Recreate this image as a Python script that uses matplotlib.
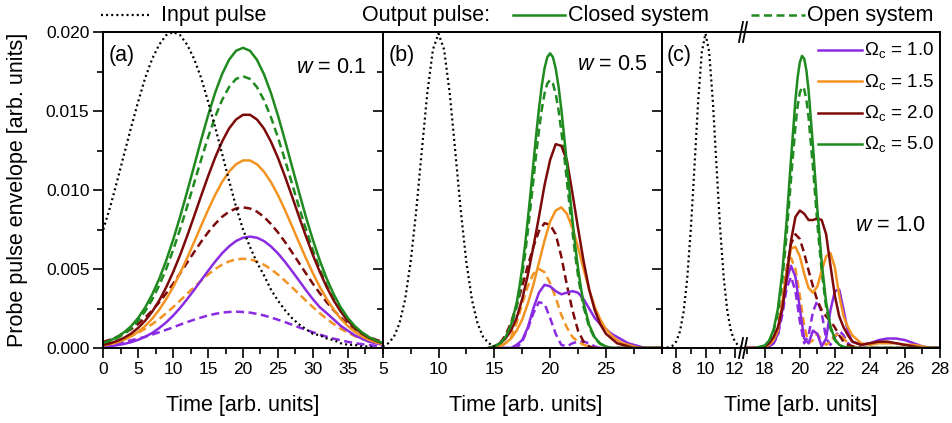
import numpy as np
import matplotlib
matplotlib.use("Agg")
import matplotlib.pyplot as plt
from matplotlib.lines import Line2D
from matplotlib.ticker import MultipleLocator, FormatStrFormatter

plt.rcParams["font.family"] = ["Liberation Sans", "DejaVu Sans"]
plt.rcParams["mathtext.fontset"] = "custom"
plt.rcParams["mathtext.rm"] = "Liberation Sans"
plt.rcParams["mathtext.it"] = "Liberation Sans:italic"
plt.rcParams["mathtext.default"] = "regular"

# ---------------- data ----------------
omega_labels = ["1.0", "1.5", "2.0", "5.0"]
w_labels = ["0.1", "0.5", "1.0"]

# panel (a), w = 0.1
ta = np.arange(0, 41, 1)
a_input = [0.0075, 0.00895, 0.0106, 0.0123, 0.014, 0.0156, 0.0171, 0.0183, 0.0192, 0.0198, 0.02,
           0.0198, 0.0192, 0.0183, 0.0171, 0.0156, 0.014, 0.0123, 0.0106, 0.00895, 0.0075,
           0.0064, 0.0054, 0.0046, 0.0037, 0.003, 0.0024, 0.0019, 0.0015, 0.0012, 0.0009,
           0.0008, 0.0006, 0.0005, 0.0003, 0.0002, 0.0002, 0.0001, 0.0001, 0, 0]
a_closed = {
    "1.0": [0.00008, 0.00012, 0.00018, 0.00026, 0.00037, 0.00052, 0.00071, 0.00095, 0.00126, 0.00162, 0.00205,
            0.00254, 0.00309, 0.00367, 0.00428, 0.00488, 0.00546, 0.00599, 0.00643, 0.00677, 0.00698,
            0.00705, 0.00698, 0.00677, 0.00643, 0.00599, 0.00546, 0.00488, 0.00428, 0.00367, 0.00309,
            0.00258, 0.0022, 0.0018, 0.0014, 0.0011, 0.0008, 0.0006, 0.0004, 0.0003, 0.0002],
    "1.5": [0.00016, 0.00025, 0.00036, 0.00052, 0.00074, 0.00103, 0.00139, 0.00185, 0.00242, 0.00309, 0.00386,
            0.00474, 0.00569, 0.0067, 0.00773, 0.00874, 0.00968, 0.0105, 0.01116, 0.01163, 0.01187,
            0.01187, 0.01163, 0.01116, 0.0105, 0.00968, 0.00874, 0.00773, 0.0067, 0.00569, 0.00474,
            0.00386, 0.00309, 0.00242, 0.00185, 0.00139, 0.00103, 0.00074, 0.00052, 0.00036, 0.00025],
    "2.0": [0.0002, 0.0003, 0.00045, 0.00065, 0.00092, 0.00128, 0.00173, 0.0023, 0.003, 0.00384, 0.00481,
            0.00589, 0.00708, 0.00834, 0.00962, 0.01087, 0.01204, 0.01306, 0.01389, 0.01446, 0.01476,
            0.01476, 0.01446, 0.01389, 0.01306, 0.01204, 0.01087, 0.00962, 0.00834, 0.00708, 0.00589,
            0.00481, 0.00384, 0.003, 0.0023, 0.00173, 0.00128, 0.00092, 0.00065, 0.00045, 0.0003],
    "5.0": [0.00032, 0.00048, 0.0007, 0.001, 0.00139, 0.00191, 0.00257, 0.00339, 0.00437, 0.00553, 0.00685,
            0.00831, 0.00989, 0.01152, 0.01316, 0.01472, 0.01614, 0.01733, 0.01824, 0.01881, 0.019,
            0.01881, 0.01824, 0.01733, 0.01614, 0.01472, 0.01316, 0.01152, 0.00989, 0.00831, 0.00685,
            0.00553, 0.00437, 0.00339, 0.00257, 0.00191, 0.00139, 0.001, 0.0007, 0.00048, 0.00032],
}
a_open = {
    "1.0": [0.00019, 0.00024, 0.00031, 0.00039, 0.00049, 0.00059, 0.00071, 0.00085, 0.001, 0.00115, 0.00131,
            0.00148, 0.00164, 0.00179, 0.00193, 0.00206, 0.00216, 0.00224, 0.00228, 0.0023, 0.00228,
            0.00224, 0.00216, 0.00206, 0.00193, 0.00179, 0.00164, 0.00148, 0.00131, 0.00115, 0.001,
            0.00085, 0.00071, 0.00059, 0.00049, 0.00039, 0.00031, 0.00024, 0.00019, 0.00014, 0.00011],
    "1.5": [0.00025, 0.00034, 0.00045, 0.00059, 0.00076, 0.00097, 0.00122, 0.00151, 0.00183, 0.0022, 0.00259,
            0.003, 0.00343, 0.00385, 0.00426, 0.00465, 0.00499, 0.00527, 0.00548, 0.00561, 0.00565,
            0.00561, 0.00548, 0.00527, 0.00499, 0.00465, 0.00426, 0.00385, 0.00343, 0.003, 0.00259,
            0.0022, 0.00183, 0.00151, 0.00122, 0.00097, 0.00076, 0.00059, 0.00045, 0.00034, 0.00025],
    "2.0": [0.00039, 0.00053, 0.00071, 0.00093, 0.0012, 0.00153, 0.00193, 0.00238, 0.00289, 0.00346, 0.00407,
            0.00473, 0.0054, 0.00607, 0.00672, 0.00732, 0.00785, 0.0083, 0.00863, 0.00883, 0.0089,
            0.00883, 0.00863, 0.0083, 0.00785, 0.00732, 0.00672, 0.00607, 0.0054, 0.00473, 0.00407,
            0.00346, 0.00289, 0.00238, 0.00193, 0.00153, 0.0012, 0.00093, 0.00071, 0.00053, 0.00039],
    "5.0": [0.00029, 0.00043, 0.00063, 0.0009, 0.00126, 0.00173, 0.00233, 0.00307, 0.00396, 0.005, 0.0062,
            0.00753, 0.00895, 0.01043, 0.01191, 0.01333, 0.01461, 0.01569, 0.01651, 0.01703, 0.0172,
            0.01703, 0.01651, 0.01569, 0.01461, 0.01333, 0.01191, 0.01043, 0.00895, 0.00753, 0.0062,
            0.005, 0.00396, 0.00307, 0.00233, 0.00173, 0.00126, 0.0009, 0.00063, 0.00043, 0.00029],
}
a_times = {k: ta for k in omega_labels}

# panel (b), w = 0.5
tb_in = np.arange(5, 15.51, 0.5)
b_input = [0.0001, 0.0003, 0.0007, 0.00155, 0.00304, 0.00541, 0.00866, 0.01246, 0.01616, 0.01889, 0.0199,
           0.01889, 0.01616, 0.01246, 0.00866, 0.00541, 0.00304, 0.00155, 0.0007, 0.0003, 0.0001, 0.0]
tb = np.arange(14.5, 30.01, 0.5)
tb_green = [14.5, 15, 15.5, 16, 16.5, 17, 17.25, 17.5, 17.75, 18, 18.25, 18.5, 18.75, 19, 19.25, 19.5,
            19.75, 20, 20.25, 20.5, 20.75, 21, 21.25, 21.5, 21.75, 22, 22.25, 22.5, 22.75, 23,
            23.5, 24, 24.5, 25, 25.5, 30]
b_closed = {
    "1.0": [0, 0, 0, 0, 0, 0.0002, 0.0005, 0.0013, 0.0025, 0.0035, 0.004, 0.0039, 0.0036, 0.0034, 0.0035, 0.0036,
            0.0035, 0.0031, 0.0025, 0.0019, 0.0015, 0.0012, 0.0009, 0.0007, 0.0005, 0.0003, 0.0002, 0.0001,
            0, 0, 0, 0],
    "1.5": [0, 0, 0.0001, 0.0003, 0.0006, 0.0011, 0.0018, 0.0028, 0.004, 0.0054, 0.0068, 0.008, 0.0087, 0.0089,
            0.0085, 0.0076, 0.0064, 0.005, 0.0037, 0.0026, 0.0018, 0.0012, 0.0008, 0.0005, 0.0003, 0.0002,
            0.0001, 0, 0, 0, 0, 0],
    "2.0": [0, 0.0001, 0.0003, 0.0006, 0.0011, 0.0019, 0.0031, 0.0046, 0.0064, 0.0083, 0.0103, 0.0119, 0.0129,
            0.0128, 0.0119, 0.0098, 0.0076, 0.0055, 0.0037, 0.0024, 0.0015, 0.0009, 0.0006, 0.0003, 0.0002,
            0.0001, 0, 0, 0, 0, 0, 0],
    "5.0": [0, 0.0001, 0.00028, 0.00067, 0.00146, 0.00285, 0.00386, 0.00507, 0.00649, 0.00811, 0.00985,
            0.01167, 0.01347, 0.01514, 0.01658, 0.0177, 0.01841, 0.01865, 0.01841, 0.0177, 0.01658, 0.01514,
            0.01347, 0.01167, 0.00985, 0.00811, 0.00649, 0.00507, 0.00386, 0.00285, 0.00146, 0.00067,
            0.00028, 0.0001, 0, 0],
}
b_open = {
    "1.0": [0, 0, 0, 0, 0, 0, 0.0004, 0.0012, 0.0022, 0.0029, 0.0028, 0.0019, 0.0009, 0.0002, 0.0001, 0.0003,
            0.0004, 0.0004, 0.0003, 0.0001, 0, 0, 0, 0, 0, 0, 0, 0, 0, 0, 0, 0],
    "1.5": [0, 0, 0.0001, 0.0003, 0.0007, 0.0016, 0.0028, 0.0039, 0.0047, 0.005, 0.0048, 0.0041, 0.0032, 0.0021,
            0.0013, 0.0007, 0.0004, 0.0002, 0.0001, 0, 0, 0, 0, 0, 0, 0, 0, 0, 0, 0, 0, 0],
    "2.0": [0, 0.0001, 0.0003, 0.0008, 0.0016, 0.0027, 0.0039, 0.0052, 0.0064, 0.0074, 0.0079, 0.0078, 0.0072,
            0.0058, 0.004, 0.0024, 0.0011, 0.0004, 0.0001, 0, 0, 0, 0, 0, 0, 0, 0, 0, 0, 0, 0, 0],
    "5.0": [0, 0.00009, 0.00025, 0.00061, 0.00133, 0.00259, 0.00351, 0.00461, 0.0059, 0.00738, 0.00896,
            0.01061, 0.01225, 0.01377, 0.01508, 0.0161, 0.01674, 0.01696, 0.01674, 0.0161, 0.01508, 0.01377,
            0.01225, 0.01061, 0.00896, 0.00738, 0.0059, 0.00461, 0.00351, 0.00259, 0.00133, 0.00061,
            0.00025, 0.00009, 0, 0],
}
b_times = {"1.0": tb, "1.5": tb, "2.0": tb, "5.0": tb_green}

# panel (c), w = 1.0 (broken time axis)
tc_in = np.arange(7, 12.51, 0.25)
c_input = [0, 0.00001, 0.00005, 0.00015, 0.00042, 0.00105, 0.00229, 0.00442, 0.0076, 0.01158, 0.01566, 0.01875,
           0.0199, 0.01875, 0.01566, 0.01158, 0.0076, 0.00442, 0.00229, 0.00105, 0.00042, 0.00015, 0.00005]
tc = [17, 17.5, 18, 18.25, 18.5, 18.75, 19, 19.25, 19.5, 19.75, 20, 20.25, 20.5, 20.75, 21, 21.25, 21.5,
      21.75, 22, 22.25, 22.5, 22.75, 23, 23.5, 24, 24.5, 25, 25.5, 26, 26.5, 27, 27.5, 28]
tc_green = [17.5, 18, 18.25, 18.5, 18.75, 19, 19.25, 19.5, 19.75, 19.875, 20, 20.125, 20.25, 20.375, 20.5,
            20.75, 21, 21.25, 21.5, 21.75, 22, 22.25, 22.5, 23, 28]
c_closed = {
    "1.0": [0, 0, 0, 0.0001, 0.0003, 0.0009, 0.0024, 0.0043, 0.0052, 0.0045, 0.0025, 0.0006, 0.0003, 0.0011,
            0.0009, 0.0001, 0.0006, 0.0024, 0.0036, 0.0037, 0.0024, 0.001, 0.0004, 0.0002, 0.0003, 0.0005,
            0.0006, 0.0006, 0.0005, 0.0003, 0.0001, 0, 0],
    "1.5": [0, 0, 0.0001, 0.0002, 0.0005, 0.0011, 0.0029, 0.0049, 0.0063, 0.0064, 0.0058, 0.0047, 0.0038, 0.0035,
            0.0039, 0.0049, 0.0058, 0.006, 0.0051, 0.0033, 0.002, 0.0013, 0.0008, 0.0003, 0.0002, 0.0003,
            0.0003, 0.0003, 0.0002, 0.0002, 0.0001, 0, 0],
    "2.0": [0, 0, 0.0001, 0.0003, 0.0007, 0.0013, 0.0025, 0.0045, 0.0068, 0.0083, 0.0087, 0.0085, 0.0081, 0.0081,
            0.0082, 0.0081, 0.0072, 0.0052, 0.0033, 0.002, 0.0013, 0.0008, 0.0004, 0.0002, 0.0003, 0.0004,
            0.0004, 0.0003, 0.0002, 0.0001, 0, 0, 0],
    "5.0": [0.00001, 0.00016, 0.00047, 0.00115, 0.0025, 0.0048, 0.0081, 0.012, 0.0157, 0.01713, 0.01808,
            0.01849, 0.01831, 0.01757, 0.0163, 0.0128, 0.0088, 0.0054, 0.0029, 0.00136, 0.00056, 0.0002,
            0.00007, 0, 0],
}
c_open = {
    "1.0": [0, 0, 0, 0.0001, 0.0003, 0.0008, 0.0021, 0.0038, 0.0045, 0.0036, 0.0017, 0.0003, 0.0008, 0.0023,
            0.003, 0.0022, 0.0006, 0.0002, 0.0007, 0.0011, 0.0008, 0.0003, 0.0001,
            0, 0, 0, 0, 0, 0, 0, 0, 0, 0],
    "1.5": [0, 0, 0, 0.0001, 0.0004, 0.0012, 0.003, 0.0048, 0.0057, 0.005, 0.0033, 0.0014, 0.0003, 0.0005,
            0.0009, 0.0005, 0.0002, 0.0004, 0.0008, 0.0009, 0.0006, 0.0003, 0.0001,
            0, 0, 0, 0, 0, 0, 0, 0, 0, 0],
    "2.0": [0, 0, 0, 0.0001, 0.0004, 0.0012, 0.0029, 0.005, 0.0066, 0.0072, 0.0069, 0.006, 0.0049, 0.0039,
            0.003, 0.0024, 0.002, 0.0017, 0.0013, 0.0008, 0.0004, 0.0002, 0.0001,
            0, 0, 0, 0, 0, 0, 0, 0, 0, 0],
    "5.0": [0.00001, 0.00014, 0.00042, 0.00103, 0.00224, 0.00429, 0.00724, 0.01073, 0.01404, 0.01531, 0.01616,
            0.01653, 0.01637, 0.01571, 0.01457, 0.01144, 0.00787, 0.00483, 0.00259, 0.00122, 0.0005, 0.00018,
            0.00006, 0, 0],
}
c_times = {"1.0": tc, "1.5": tc, "2.0": tc, "5.0": tc_green}

colors = {"1.0": "#8a2be2", "1.5": "#f39322", "2.0": "#7d0a0a", "5.0": "#1f8a1f"}

# ---------------- layout (pixel helpers) ----------------
W, H = 953, 423
Y_TOP, Y_BOT = 32, 348
LW = 1.8
DASH = (0, (3.2, 1.8))
DOT = (0, (0.9, 1.4))


def fx(px):
    return px / W


def fy(py):
    return 1 - py / H


def box(x0, x1):
    return [fx(x0), fy(Y_BOT), (x1 - x0) / W, (Y_BOT - Y_TOP) / H]


def style(ax, xlim, major, minor):
    ax.set_xlim(*xlim)
    ax.set_ylim(0, 0.020)
    ax.set_xticks(major)
    ax.xaxis.set_minor_locator(MultipleLocator(minor))
    ax.yaxis.set_major_locator(MultipleLocator(0.005))
    ax.yaxis.set_minor_locator(MultipleLocator(0.0025))
    ax.yaxis.set_major_formatter(FormatStrFormatter("%.3f"))
    ax.tick_params(which="both", direction="out", width=1.2, labelsize=12.5, pad=3)
    ax.tick_params(which="major", length=7)
    ax.tick_params(which="minor", length=4)
    ax.tick_params(axis="y", labelleft=False)
    for s in ax.spines.values():
        s.set_linewidth(1.4)


def draw_outputs(ax, times, closed, opened):
    for key in omega_labels:
        ax.plot(times[key], opened[key], color=colors[key], lw=LW, ls=DASH)
    for key in omega_labels:
        ax.plot(times[key], closed[key], color=colors[key], lw=LW)


fig = plt.figure(figsize=(W / 100, H / 100), dpi=100)

ax_a = fig.add_axes(box(103.3, 382.7))
ax_b = fig.add_axes(box(382.7, 661.7))
ax_c1 = fig.add_axes(box(661.7, 742))
ax_c2 = fig.add_axes(box(742, 940))

style(ax_a, (0, 40), np.arange(0, 36, 5), 2.5)
ax_a.tick_params(axis="y", labelleft=True)
style(ax_b, (5, 30), np.arange(5, 26, 5), 2.5)
style(ax_c1, (7, 12.5), [8, 10, 12], 1)
style(ax_c2, (16.7, 28), np.arange(18, 29, 2), 1)
ax_c1.spines["right"].set_visible(False)
ax_c2.spines["left"].set_visible(False)
ax_c2.tick_params(axis="y", which="both", left=False)

draw_outputs(ax_a, a_times, a_closed, a_open)
ax_a.plot(ta, a_input, color="black", lw=1.6, ls=DOT)
draw_outputs(ax_b, b_times, b_closed, b_open)
ax_b.plot(tb_in, b_input, color="black", lw=1.6, ls=DOT)
ax_c1.plot(tc_in, c_input, color="black", lw=1.6, ls=DOT)
draw_outputs(ax_c2, c_times, c_closed, c_open)

# panel labels
FS = 15.5
for ax, tag in [(ax_a, "(a)"), (ax_b, "(b)")]:
    ax.text(0.02, 0.927, tag, transform=ax.transAxes, fontsize=FS, va="center", ha="left")
fig.text(fx(667), fy(55), "(c)", fontsize=FS, va="center", ha="left")
ax_a.text(0.944, 0.889, r"$\mathit{w}$ = " + w_labels[0], transform=ax_a.transAxes,
          fontsize=FS, va="center", ha="right")
ax_b.text(0.951, 0.896, r"$\mathit{w}$ = " + w_labels[1], transform=ax_b.transAxes,
          fontsize=FS, va="center", ha="right")
fig.text(fx(926), fy(225), r"$\mathit{w}$ = " + w_labels[2], fontsize=FS, va="center", ha="right")

# axis labels
fig.text(fx(18), fy(190), "Probe pulse envelope [arb. units]", rotation=90,
         fontsize=FS, va="center", ha="center")
for xc in (243, 526, 801):
    fig.text(fx(xc), fy(405), "Time [arb. units]", fontsize=FS, va="center", ha="center")

# top legend
y_leg = fy(15)
fig.add_artist(Line2D([fx(101), fx(151)], [y_leg, y_leg], transform=fig.transFigure,
                      color="black", lw=1.6, ls=DOT))
fig.text(fx(161), y_leg, "Input pulse", fontsize=FS, va="center", ha="left")
fig.text(fx(362), y_leg, "Output pulse:", fontsize=FS, va="center", ha="left")
fig.add_artist(Line2D([fx(513), fx(565)], [y_leg, y_leg], transform=fig.transFigure,
                      color=colors["5.0"], lw=LW))
fig.text(fx(568), y_leg, "Closed system", fontsize=FS, va="center", ha="left")
fig.add_artist(Line2D([fx(751), fx(805)], [y_leg, y_leg], transform=fig.transFigure,
                      color=colors["5.0"], lw=LW, ls=DASH))
fig.text(fx(807), y_leg, "Open system", fontsize=FS, va="center", ha="left")

# Omega_c legend inside panel (c)
for i, key in enumerate(omega_labels):
    yy = fy(50 + 31.5 * i)
    fig.add_artist(Line2D([fx(818), fx(862)], [yy, yy], transform=fig.transFigure,
                          color=colors[key], lw=LW))
    fig.text(fx(864), yy, "Ω$_{c}$ = " + key, fontsize=13.5, va="center", ha="left")

# axis-break marks
for yc in (Y_TOP, Y_BOT):
    for dx in (0, 4):
        fig.add_artist(Line2D([fx(739 + dx), fx(743 + dx)], [fy(yc + 10), fy(yc - 10)],
                              transform=fig.transFigure, color="black", lw=1.3))

fig.savefig("out.png", dpi=100)
